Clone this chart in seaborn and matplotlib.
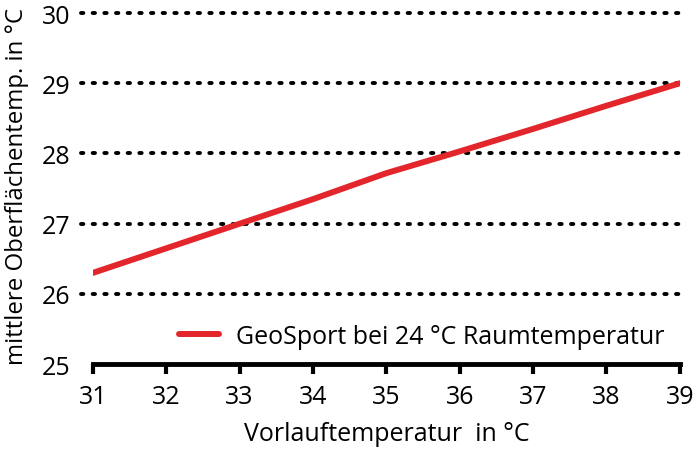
import matplotlib
matplotlib.use("Agg")
from matplotlib import pyplot as plt
import seaborn as sns
import pandas as pd

vorlauf = [31, 32, 33, 34, 35, 36, 37, 38, 39]
oberflaeche = [26.3, 26.65, 27.0, 27.35, 27.72, 28.03, 28.35, 28.68, 29.0]
series_name = "GeoSport bei 24 °C Raumtemperatur"

df = pd.DataFrame({"x": vorlauf, "y": oberflaeche, "s": series_name})

sns.set_style("white")
plt.rcParams['font.family'] = ['Open Sans', 'DejaVu Sans']
plt.rcParams['text.color'] = 'black'
plt.rcParams['axes.labelcolor'] = 'black'
plt.rcParams['xtick.color'] = 'black'
plt.rcParams['ytick.color'] = 'black'

fig = plt.figure(figsize=(6.98, 4.52), dpi=100)
ax = fig.add_axes([0.133, 0.192, 0.841, 0.777])

sns.lineplot(data=df, x="x", y="y", hue="s", palette=["#e3262b"], linewidth=4.3, ax=ax)

ax.set_xlim(31, 39)
ax.set_ylim(25, 30)
ax.set_xticks(vorlauf)
ax.set_yticks([25, 26, 27, 28, 29, 30])
ax.tick_params(axis='x', bottom=True, labelsize=18, length=7, width=3, direction='out', color='black', pad=7)
ax.tick_params(axis='y', left=False, labelsize=18, length=0, pad=16)
for y in [26, 27, 28, 29, 30]:
    ax.axhline(y, xmin=-0.02, xmax=1.0, color='black', linestyle=(0, (0.6, 2.4)), linewidth=2.8,
               dash_capstyle='round', zorder=0, clip_on=False)

for s in ['top', 'right', 'left']:
    ax.spines[s].set_visible(False)
ax.spines['bottom'].set_linewidth(3.5)
ax.spines['bottom'].set_color('black')

ax.set_xlabel("Vorlauftemperatur  in °C", fontsize=18, labelpad=9)
ax.set_ylabel("mittlere Oberflächentemp. in °C", fontsize=17.3)
ax.yaxis.set_label_coords(-0.108, 0.51)

leg = ax.legend(loc='lower right', frameon=False, fontsize=18, handlelength=1.6, handletextpad=0.7,
                borderaxespad=0.2)
for h in leg.get_lines():
    h.set_linewidth(4.3)

fig.savefig("out.png", dpi=100)
